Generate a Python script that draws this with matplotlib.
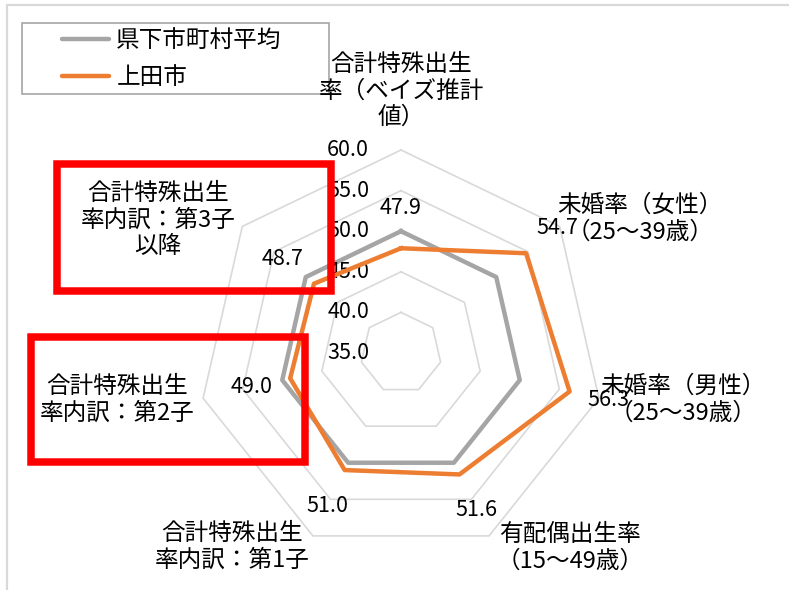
import numpy as np
import matplotlib
matplotlib.use("Agg")
import matplotlib.pyplot as plt
from matplotlib.lines import Line2D
from matplotlib.patches import Rectangle

plt.rcParams["font.family"] = ["Noto Sans CJK JP", "DejaVu Sans"]

# ---------------- data ----------------
categories = [
    "合計特殊出生\n率（ベイズ推計\n値）",
    "未婚率（女性）\n（25～39歳）",
    "未婚率（男性）\n（25～39歳）",
    "有配偶出生率\n（15～49歳）",
    "合計特殊出生\n率内訳：第1子",
    "合計特殊出生\n率内訳：第2子",
    "合計特殊出生\n率内訳：第3子\n以降",
]
ueda = [47.9, 54.7, 56.3, 51.6, 51.0, 49.0, 48.7]
pref_avg = [50.0, 50.0, 50.0, 50.0, 50.0, 50.0, 50.0]
series_names = ["県下市町村平均", "上田市"]
ring_levels = [40, 45, 50, 55, 60]
tick_values = [35.0, 40.0, 45.0, 50.0, 55.0, 60.0]

# ---------------- layout helpers (pixels -> figure fraction) ----------------
W, H = 789, 590


def fx(px):
    return px / W


def fy(py):
    return 1 - py / H


# label centres in pixels, one per category
label_pos = [(401, 91), (640, 219), (683, 400), (570, 548), (232, 547), (117, 400), (158, 220)]

GRAY = "#a5a5a5"
ORANGE = "#ed7d31"
GRID = "#d9d9d9"

fig = plt.figure(figsize=(W / 100, H / 100), dpi=100)

cx, cy, rad = 401, 353, 203
ax = fig.add_axes([fx(cx - rad), fy(cy + rad), 2 * rad / W, 2 * rad / H], projection="polar")
ax.set_theta_zero_location("N")
ax.set_theta_direction(-1)
ax.set_ylim(35, 60)
ax.grid(False)
ax.set_xticks([])
ax.set_yticks([])
ax.spines["polar"].set_visible(False)
ax.patch.set_alpha(0)

n = len(categories)
theta = np.linspace(0, 2 * np.pi, n, endpoint=False)
theta_c = np.append(theta, theta[0])

# heptagon rings
for lv in ring_levels:
    ax.plot(theta_c, [lv] * (n + 1), color=GRID, lw=1.2, clip_on=False, zorder=1)

# series
ax.plot(theta_c, pref_avg + pref_avg[:1], color=GRAY, lw=3.2, clip_on=False, zorder=3)
ax.plot(theta_c, ueda + ueda[:1], color=ORANGE, lw=3.2, clip_on=False, zorder=4)

# data labels (上田市)
for t, v in zip(theta, ueda):
    ax.text(t, v + 4.9, f"{v:.1f}", ha="center", va="center", fontsize=15.5,
            color="#000000", zorder=5)

# radial tick labels
for v in tick_values:
    ax.annotate(f"{v:.1f}", xy=(0, v), xytext=(-32, 0), textcoords="offset pixels",
                ha="right", va="center", fontsize=15.5, color="#000000",
                annotation_clip=False)

# category labels
for lab, (px, py) in zip(categories, label_pos):
    fig.text(fx(px), fy(py), lab, ha="center", va="center", multialignment="center",
             fontsize=17, linespacing=1.2, color="#000000")

# legend
handles = [Line2D([], [], color=GRAY, lw=3.2, solid_capstyle="round"),
           Line2D([], [], color=ORANGE, lw=3.2, solid_capstyle="round")]
fig.legend(handles, series_names, loc="upper left", bbox_to_anchor=(fx(62), fy(29)),
           frameon=False, borderpad=0, borderaxespad=0, fontsize=17,
           handlelength=2.0, handletextpad=0.3, labelspacing=0.6)
fig.add_artist(Rectangle((fx(22), fy(94)), 307 / W, 71 / H, transform=fig.transFigure,
                         fill=False, edgecolor="#a6a6a6", lw=1.2))

# chart area border (left and top visible)
fig.add_artist(Rectangle((fx(7), -0.05), 1.1, fy(5) + 0.05, transform=fig.transFigure,
                         fill=False, edgecolor=GRID, lw=1.6))

# red highlight boxes
for (x0, y0, x1, y1) in [(57, 163.5, 330.5, 291), (30.5, 337, 304.5, 462)]:
    fig.add_artist(Rectangle((fx(x0), fy(y1)), (x1 - x0) / W, (y1 - y0) / H,
                             transform=fig.transFigure, fill=False, edgecolor="#ff0000",
                             lw=5.4, joinstyle="miter", zorder=10))

fig.savefig("out.png", dpi=100)
